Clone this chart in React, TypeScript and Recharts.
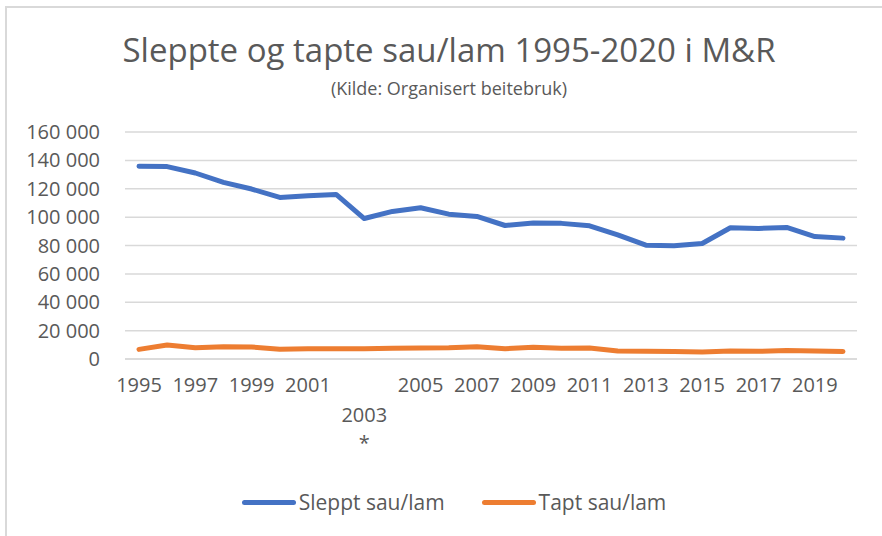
import { LineChart, Line, CartesianGrid, XAxis, YAxis } from "recharts";

const years = [
  "1995", "1996", "1997", "1998", "1999", "2000", "2001", "2002", "2003",
  "2004", "2005", "2006", "2007", "2008", "2009", "2010", "2011", "2012",
  "2013", "2014", "2015", "2016", "2017", "2018", "2019", "2020",
];

const sleppt = [
  135800, 135600, 131100, 124500, 119800, 113900, 115100, 116000, 99000,
  104000, 106600, 102100, 100500, 94100, 95800, 95600, 93900, 87500,
  80200, 79800, 81400, 92500, 92000, 92700, 86300, 85200,
];

const tapt = [
  6800, 9900, 8000, 8700, 8500, 6800, 7300, 7300, 7300,
  7500, 7800, 8000, 8700, 7300, 8200, 7500, 7800, 5600,
  5400, 5200, 4900, 5600, 5400, 6000, 5700, 5300,
];

const yTicks = [0, 20000, 40000, 60000, 80000, 100000, 120000, 140000, 160000];

// year whose label carries a footnote mark
const markedYear = "2003";

const series = [
  { key: "sleppt", name: "Sleppt sau/lam", color: "#4472C4" },
  { key: "tapt", name: "Tapt sau/lam", color: "#ED7D31" },
];

const data = years.map((year, i) => ({ year, sleppt: sleppt[i], tapt: tapt[i] }));

const FONT = "'Open Sans', sans-serif";
const TEXT = "#595959";

const fmt = (v: number) => String(v).replace(/\B(?=(\d{3})+(?!\d))/g, " ");

const YearTick = (props: any) => {
  const { x, y, payload } = props;
  const marked = payload.value === markedYear;
  return (
    <g>
      <text
        x={x}
        y={y + (marked ? 47 : 17)}
        dy="0.71em"
        textAnchor="middle"
        fill={TEXT}
        fontSize={20}
        fontFamily={FONT}
      >
        {payload.value}
      </text>
      {marked && (
        <text x={x} y={y + 75} dy="0.71em" textAnchor="middle" fill={TEXT} fontSize={20} fontFamily={FONT}>
          *
        </text>
      )}
    </g>
  );
};

export default function App() {
  return (
    <div
      style={{
        position: "absolute",
        left: 0,
        top: 0,
        width: 882,
        height: 536,
        background: "#fff",
        fontFamily: FONT,
        overflow: "hidden",
      }}
    >
      <div
        style={{
          position: "absolute",
          left: 5,
          top: 6,
          right: -4,
          bottom: -4,
          borderLeft: "2px solid #d9d9d9",
          borderTop: "2px solid #d9d9d9",
        }}
      />
      <div
        style={{
          position: "absolute",
          top: 28,
          width: 898,
          textAlign: "center",
          fontSize: 33,
          color: TEXT,
          lineHeight: "44px",
        }}
      >
        Sleppte og tapte sau/lam 1995-2020 i M&amp;R
      </div>
      <div
        style={{
          position: "absolute",
          top: 75,
          width: 898,
          textAlign: "center",
          fontSize: 18,
          color: TEXT,
          lineHeight: "26px",
        }}
      >
        (Kilde: Organisert beitebruk)
      </div>
      <div style={{ position: "absolute", left: 0, top: 0 }}>
        <LineChart
          width={882}
          height={536}
          data={data}
          margin={{ top: 132, right: 25, bottom: 0, left: 0 }}
        >
          <CartesianGrid vertical={false} stroke="#d9d9d9" strokeWidth={1.5} />
          <XAxis
            dataKey="year"
            interval={1}
            tickLine={false}
            axisLine={{ stroke: "#d9d9d9", strokeWidth: 1.5 }}
            tickSize={0}
            padding={{ left: 14, right: 14 }}
            height={177}
            tick={<YearTick />}
          />
          <YAxis
            width={125}
            domain={[0, 160000]}
            ticks={yTicks}
            tickFormatter={fmt}
            axisLine={false}
            tickLine={false}
            tickSize={0}
            tickMargin={25}
            tick={{ fill: TEXT, fontSize: 20, fontFamily: FONT }}
          />
          {series.map((s) => (
            <Line
              key={s.key}
              dataKey={s.key}
              name={s.name}
              stroke={s.color}
              strokeWidth={5}
              strokeLinecap="round"
              strokeLinejoin="round"
              type="linear"
              dot={false}
              activeDot={false}
              isAnimationActive={false}
            />
          ))}
        </LineChart>
      </div>
      <div
        style={{
          position: "absolute",
          top: 487,
          left: 0,
          width: 908,
          display: "flex",
          justifyContent: "center",
          gap: 37,
          fontSize: 21,
          color: TEXT,
          lineHeight: "30px",
        }}
      >
        {series.map((s) => (
          <div key={s.key} style={{ display: "flex", alignItems: "center" }}>
            <span
              style={{
                display: "inline-block",
                width: 54,
                height: 5,
                borderRadius: 3,
                background: s.color,
                marginRight: 3,
              }}
            />
            {s.name}
          </div>
        ))}
      </div>
    </div>
  );
}
